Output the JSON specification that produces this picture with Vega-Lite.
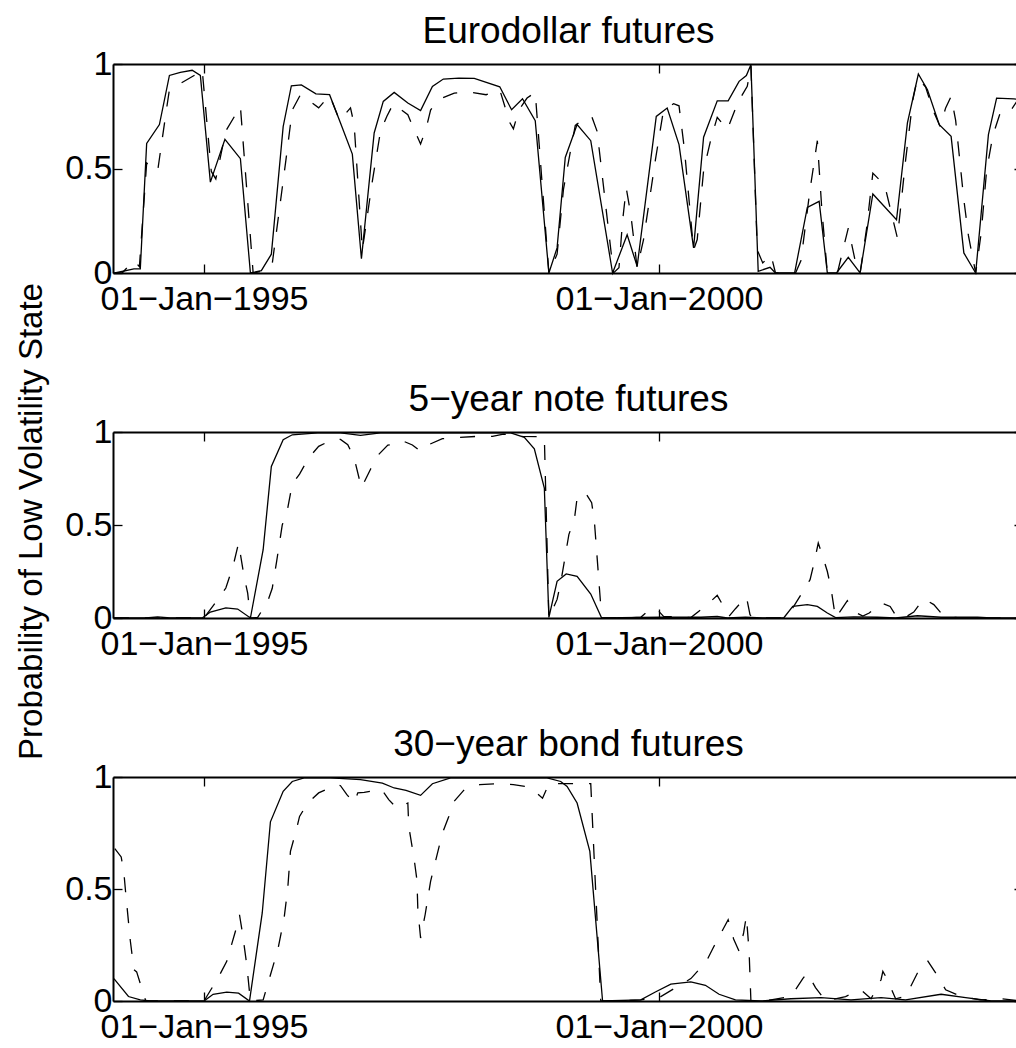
{
  "$schema": "https://vega.github.io/schema/vega-lite/v6.json",
  "padding": {"left": 14, "top": 12, "right": 0, "bottom": 0},
  "background": "white",
  "datasets": {
    "eurodollar": [
      {"series":"smoothed","year":1994.02,"prob":0},{"series":"smoothed","year":1994.23,"prob":0.02},{"series":"smoothed","year":1994.30,"prob":0.02},{"series":"smoothed","year":1994.37,"prob":0.62},{"series":"smoothed","year":1994.51,"prob":0.71},{"series":"smoothed","year":1994.62,"prob":0.945},{"series":"smoothed","year":1994.74,"prob":0.96},{"series":"smoothed","year":1994.87,"prob":0.97},{"series":"smoothed","year":1994.96,"prob":0.945},{"series":"smoothed","year":1995.07,"prob":0.435},{"series":"smoothed","year":1995.23,"prob":0.64},{"series":"smoothed","year":1995.40,"prob":0.547},{"series":"smoothed","year":1995.51,"prob":0},{"series":"smoothed","year":1995.63,"prob":0.011},{"series":"smoothed","year":1995.74,"prob":0.09},{"series":"smoothed","year":1995.87,"prob":0.70},{"series":"smoothed","year":1995.96,"prob":0.896},{"series":"smoothed","year":1996.07,"prob":0.90},{"series":"smoothed","year":1996.23,"prob":0.857},{"series":"smoothed","year":1996.38,"prob":0.853},{"series":"smoothed","year":1996.50,"prob":0.718},{"series":"smoothed","year":1996.63,"prob":0.569},{"series":"smoothed","year":1996.73,"prob":0.068},{"series":"smoothed","year":1996.87,"prob":0.67},{"series":"smoothed","year":1996.97,"prob":0.821},{"series":"smoothed","year":1997.09,"prob":0.864},{"series":"smoothed","year":1997.24,"prob":0.813},{"series":"smoothed","year":1997.38,"prob":0.777},{"series":"smoothed","year":1997.51,"prob":0.893},{"series":"smoothed","year":1997.63,"prob":0.928},{"series":"smoothed","year":1997.80,"prob":0.932},{"series":"smoothed","year":1997.97,"prob":0.931},{"series":"smoothed","year":1998.25,"prob":0.891},{"series":"smoothed","year":1998.38,"prob":0.781},{"series":"smoothed","year":1998.50,"prob":0.834},{"series":"smoothed","year":1998.64,"prob":0.729},{"series":"smoothed","year":1998.79,"prob":0},{"series":"smoothed","year":1998.88,"prob":0.12},{"series":"smoothed","year":1998.97,"prob":0.553},{"series":"smoothed","year":1999.10,"prob":0.71},{"series":"smoothed","year":1999.25,"prob":0.633},{"series":"smoothed","year":1999.49,"prob":0},{"series":"smoothed","year":1999.65,"prob":0.183},{"series":"smoothed","year":1999.76,"prob":0.032},{"series":"smoothed","year":1999.97,"prob":0.749},{"series":"smoothed","year":2000.09,"prob":0.789},{"series":"smoothed","year":2000.22,"prob":0.614},{"series":"smoothed","year":2000.38,"prob":0.12},{"series":"smoothed","year":2000.49,"prob":0.65},{"series":"smoothed","year":2000.64,"prob":0.824},{"series":"smoothed","year":2000.76,"prob":0.824},{"series":"smoothed","year":2000.88,"prob":0.917},{"series":"smoothed","year":2000.96,"prob":0.945},{"series":"smoothed","year":2001.01,"prob":0.997},{"series":"smoothed","year":2001.09,"prob":0.008},{"series":"smoothed","year":2001.22,"prob":0.027},{"series":"smoothed","year":2001.28,"prob":0},{"series":"smoothed","year":2001.49,"prob":0},{"series":"smoothed","year":2001.63,"prob":0.314},{"series":"smoothed","year":2001.76,"prob":0.343},{"series":"smoothed","year":2001.85,"prob":0},{"series":"smoothed","year":2001.95,"prob":0},{"series":"smoothed","year":2002.08,"prob":0.075},{"series":"smoothed","year":2002.21,"prob":0},{"series":"smoothed","year":2002.35,"prob":0.378},{"series":"smoothed","year":2002.61,"prob":0.255},{"series":"smoothed","year":2002.73,"prob":0.718},{"series":"smoothed","year":2002.85,"prob":0.952},{"series":"smoothed","year":2002.95,"prob":0.877},{"series":"smoothed","year":2003.08,"prob":0.71},{"series":"smoothed","year":2003.21,"prob":0.654},{"series":"smoothed","year":2003.35,"prob":0.096},{"series":"smoothed","year":2003.48,"prob":0},{"series":"smoothed","year":2003.62,"prob":0.662},{"series":"smoothed","year":2003.71,"prob":0.837},{"series":"smoothed","year":2003.90,"prob":0.833},{"series":"smoothed","year":2004.00,"prob":0.83},
      {"series":"filtered","year":1994.01,"prob":0},{"series":"filtered","year":1994.10,"prob":0},{"series":"filtered","year":1994.23,"prob":0.06},{"series":"filtered","year":1994.29,"prob":0.03},{"series":"filtered","year":1994.37,"prob":0.526},{"series":"filtered","year":1994.49,"prob":0.486},{"series":"filtered","year":1994.59,"prob":0.79},{"series":"filtered","year":1994.62,"prob":0.877},{"series":"filtered","year":1994.75,"prob":0.909},{"series":"filtered","year":1994.91,"prob":0.95},{"series":"filtered","year":1994.98,"prob":0.973},{"series":"filtered","year":1995.08,"prob":0.486},{"series":"filtered","year":1995.13,"prob":0.45},{"series":"filtered","year":1995.24,"prob":0.68},{"series":"filtered","year":1995.40,"prob":0.797},{"series":"filtered","year":1995.54,"prob":0},{"series":"filtered","year":1995.65,"prob":0.01},{"series":"filtered","year":1995.75,"prob":0.045},{"series":"filtered","year":1995.90,"prob":0.54},{"series":"filtered","year":1995.97,"prob":0.78},{"series":"filtered","year":1996.06,"prob":0.853},{"series":"filtered","year":1996.14,"prob":0.83},{"series":"filtered","year":1996.26,"prob":0.79},{"series":"filtered","year":1996.38,"prob":0.85},{"series":"filtered","year":1996.49,"prob":0.73},{"series":"filtered","year":1996.61,"prob":0.79},{"series":"filtered","year":1996.65,"prob":0.71},{"series":"filtered","year":1996.74,"prob":0.11},{"series":"filtered","year":1996.85,"prob":0.44},{"series":"filtered","year":1996.94,"prob":0.68},{"series":"filtered","year":1997.01,"prob":0.75},{"series":"filtered","year":1997.08,"prob":0.81},{"series":"filtered","year":1997.24,"prob":0.757},{"series":"filtered","year":1997.31,"prob":0.686},{"series":"filtered","year":1997.38,"prob":0.617},{"series":"filtered","year":1997.44,"prob":0.69},{"series":"filtered","year":1997.49,"prob":0.78},{"series":"filtered","year":1997.58,"prob":0.83},{"series":"filtered","year":1997.75,"prob":0.861},{"series":"filtered","year":1997.91,"prob":0.866},{"series":"filtered","year":1998.10,"prob":0.853},{"series":"filtered","year":1998.25,"prob":0.877},{"series":"filtered","year":1998.36,"prob":0.72},{"series":"filtered","year":1998.40,"prob":0.69},{"series":"filtered","year":1998.46,"prob":0.78},{"series":"filtered","year":1998.55,"prob":0.837},{"series":"filtered","year":1998.64,"prob":0.864},{"series":"filtered","year":1998.79,"prob":0},{"series":"filtered","year":1998.88,"prob":0.09},{"series":"filtered","year":1998.95,"prob":0.40},{"series":"filtered","year":1999.03,"prob":0.59},{"series":"filtered","year":1999.08,"prob":0.706},{"series":"filtered","year":1999.16,"prob":0.733},{"series":"filtered","year":1999.26,"prob":0.75},{"series":"filtered","year":1999.32,"prob":0.678},{"series":"filtered","year":1999.50,"prob":0},{"series":"filtered","year":1999.56,"prob":0.025},{"series":"filtered","year":1999.60,"prob":0.25},{"series":"filtered","year":1999.64,"prob":0.407},{"series":"filtered","year":1999.69,"prob":0.28},{"series":"filtered","year":1999.76,"prob":0.025},{"series":"filtered","year":1999.83,"prob":0.16},{"series":"filtered","year":1999.96,"prob":0.54},{"series":"filtered","year":2000.05,"prob":0.78},{"series":"filtered","year":2000.16,"prob":0.81},{"series":"filtered","year":2000.22,"prob":0.80},{"series":"filtered","year":2000.28,"prob":0.59},{"series":"filtered","year":2000.38,"prob":0.11},{"series":"filtered","year":2000.42,"prob":0.16},{"series":"filtered","year":2000.49,"prob":0.49},{"series":"filtered","year":2000.57,"prob":0.64},{"series":"filtered","year":2000.64,"prob":0.745},{"series":"filtered","year":2000.75,"prob":0.686},{"series":"filtered","year":2000.87,"prob":0.82},{"series":"filtered","year":2000.97,"prob":0.893},{"series":"filtered","year":2001.01,"prob":0.99},{"series":"filtered","year":2001.08,"prob":0.11},{"series":"filtered","year":2001.14,"prob":0.048},{"series":"filtered","year":2001.23,"prob":0.088},{"series":"filtered","year":2001.28,"prob":0},{"series":"filtered","year":2001.50,"prob":0},{"series":"filtered","year":2001.56,"prob":0.06},{"series":"filtered","year":2001.66,"prob":0.40},{"series":"filtered","year":2001.74,"prob":0.633},{"series":"filtered","year":2001.79,"prob":0.30},{"series":"filtered","year":2001.85,"prob":0},{"series":"filtered","year":2001.96,"prob":0},{"series":"filtered","year":2002.08,"prob":0.215},{"series":"filtered","year":2002.16,"prob":0.05},{"series":"filtered","year":2002.21,"prob":0},{"series":"filtered","year":2002.28,"prob":0.21},{"series":"filtered","year":2002.35,"prob":0.478},{"series":"filtered","year":2002.48,"prob":0.42},{"series":"filtered","year":2002.62,"prob":0.167},{"series":"filtered","year":2002.71,"prob":0.54},{"series":"filtered","year":2002.79,"prob":0.83},{"series":"filtered","year":2002.84,"prob":0.933},{"series":"filtered","year":2002.93,"prob":0.89},{"series":"filtered","year":2003.01,"prob":0.78},{"series":"filtered","year":2003.09,"prob":0.70},{"series":"filtered","year":2003.15,"prob":0.79},{"series":"filtered","year":2003.21,"prob":0.845},{"series":"filtered","year":2003.26,"prob":0.73},{"series":"filtered","year":2003.35,"prob":0.35},{"series":"filtered","year":2003.40,"prob":0.18},{"series":"filtered","year":2003.48,"prob":0},{"series":"filtered","year":2003.54,"prob":0.19},{"series":"filtered","year":2003.60,"prob":0.49},{"series":"filtered","year":2003.67,"prob":0.66},{"series":"filtered","year":2003.76,"prob":0.78},{"series":"filtered","year":2003.87,"prob":0.78},{"series":"filtered","year":2003.93,"prob":0.82},{"series":"filtered","year":2004.00,"prob":0.83}
    ],
    "note5": [
      {"series":"smoothed","year":1994.01,"prob":0},{"series":"smoothed","year":1994.36,"prob":0},{"series":"smoothed","year":1994.49,"prob":0.006},{"series":"smoothed","year":1994.63,"prob":0},{"series":"smoothed","year":1994.98,"prob":0},{"series":"smoothed","year":1995.07,"prob":0.032},{"series":"smoothed","year":1995.24,"prob":0.054},{"series":"smoothed","year":1995.37,"prob":0.048},{"series":"smoothed","year":1995.51,"prob":0},{"series":"smoothed","year":1995.65,"prob":0.367},{"series":"smoothed","year":1995.74,"prob":0.815},{"series":"smoothed","year":1995.87,"prob":0.959},{"series":"smoothed","year":1995.97,"prob":0.985},{"series":"smoothed","year":1996.25,"prob":0.995},{"series":"smoothed","year":1996.50,"prob":0.995},{"series":"smoothed","year":1996.72,"prob":0.982},{"series":"smoothed","year":1996.94,"prob":0.995},{"series":"smoothed","year":1997.71,"prob":0.996},{"series":"smoothed","year":1998.37,"prob":0.995},{"series":"smoothed","year":1998.52,"prob":0.971},{"series":"smoothed","year":1998.63,"prob":0.91},{"series":"smoothed","year":1998.74,"prob":0.699},{"series":"smoothed","year":1998.79,"prob":0.003},{"series":"smoothed","year":1998.88,"prob":0.197},{"series":"smoothed","year":1998.98,"prob":0.237},{"series":"smoothed","year":1999.10,"prob":0.224},{"series":"smoothed","year":1999.25,"prob":0.129},{"series":"smoothed","year":1999.37,"prob":0},{"series":"smoothed","year":1999.58,"prob":0.002},{"series":"smoothed","year":2000.02,"prob":0.004},{"series":"smoothed","year":2000.46,"prob":0.004},{"series":"smoothed","year":2000.64,"prob":0.008},{"series":"smoothed","year":2000.75,"prob":0},{"series":"smoothed","year":2000.95,"prob":0.005},{"series":"smoothed","year":2001.14,"prob":0},{"series":"smoothed","year":2001.37,"prob":0},{"series":"smoothed","year":2001.47,"prob":0.062},{"series":"smoothed","year":2001.63,"prob":0.072},{"series":"smoothed","year":2001.74,"prob":0.062},{"series":"smoothed","year":2001.85,"prob":0.027},{"series":"smoothed","year":2001.94,"prob":0.002},{"series":"smoothed","year":2002.14,"prob":0.006},{"series":"smoothed","year":2002.40,"prob":0.004},{"series":"smoothed","year":2002.60,"prob":0},{"series":"smoothed","year":2002.84,"prob":0.012},{"series":"smoothed","year":2003.10,"prob":0.004},{"series":"smoothed","year":2003.50,"prob":0.004},{"series":"smoothed","year":2003.65,"prob":0},{"series":"smoothed","year":2004.00,"prob":0},
      {"series":"filtered","year":1994.01,"prob":0},{"series":"filtered","year":1995.00,"prob":0},{"series":"filtered","year":1995.11,"prob":0.072},{"series":"filtered","year":1995.24,"prob":0.161},{"series":"filtered","year":1995.32,"prob":0.28},{"series":"filtered","year":1995.38,"prob":0.403},{"series":"filtered","year":1995.44,"prob":0.224},{"series":"filtered","year":1995.48,"prob":0.134},{"series":"filtered","year":1995.51,"prob":0},{"series":"filtered","year":1995.59,"prob":0.003},{"series":"filtered","year":1995.70,"prob":0.09},{"series":"filtered","year":1995.75,"prob":0.16},{"series":"filtered","year":1995.80,"prob":0.31},{"series":"filtered","year":1995.86,"prob":0.50},{"series":"filtered","year":1995.92,"prob":0.59},{"series":"filtered","year":1995.97,"prob":0.72},{"series":"filtered","year":1996.05,"prob":0.774},{"series":"filtered","year":1996.15,"prob":0.86},{"series":"filtered","year":1996.26,"prob":0.923},{"series":"filtered","year":1996.41,"prob":0.959},{"series":"filtered","year":1996.50,"prob":0.96},{"series":"filtered","year":1996.58,"prob":0.932},{"series":"filtered","year":1996.65,"prob":0.86},{"series":"filtered","year":1996.73,"prob":0.70},{"series":"filtered","year":1996.83,"prob":0.80},{"series":"filtered","year":1996.91,"prob":0.874},{"series":"filtered","year":1997.02,"prob":0.93},{"series":"filtered","year":1997.11,"prob":0.935},{"series":"filtered","year":1997.18,"prob":0.953},{"series":"filtered","year":1997.29,"prob":0.93},{"series":"filtered","year":1997.38,"prob":0.896},{"series":"filtered","year":1997.45,"prob":0.928},{"series":"filtered","year":1997.62,"prob":0.964},{"series":"filtered","year":1997.80,"prob":0.971},{"series":"filtered","year":1997.99,"prob":0.976},{"series":"filtered","year":1998.17,"prob":0.976},{"series":"filtered","year":1998.29,"prob":0.989},{"series":"filtered","year":1998.50,"prob":0.976},{"series":"filtered","year":1998.74,"prob":0.975},{"series":"filtered","year":1998.79,"prob":0},{"series":"filtered","year":1998.88,"prob":0.1},{"series":"filtered","year":1998.92,"prob":0.19},{"series":"filtered","year":1999.01,"prob":0.45},{"series":"filtered","year":1999.07,"prob":0.53},{"series":"filtered","year":1999.10,"prob":0.645},{"series":"filtered","year":1999.19,"prob":0.675},{"series":"filtered","year":1999.26,"prob":0.62},{"series":"filtered","year":1999.29,"prob":0.52},{"series":"filtered","year":1999.37,"prob":0},{"series":"filtered","year":1999.58,"prob":0},{"series":"filtered","year":1999.80,"prob":0.004},{"series":"filtered","year":1999.91,"prob":0.05},{"series":"filtered","year":1999.98,"prob":0.045},{"series":"filtered","year":2000.05,"prob":0.009},{"series":"filtered","year":2000.35,"prob":0.002},{"series":"filtered","year":2000.53,"prob":0.072},{"series":"filtered","year":2000.64,"prob":0.122},{"series":"filtered","year":2000.77,"prob":0.009},{"series":"filtered","year":2000.84,"prob":0.05},{"series":"filtered","year":2000.96,"prob":0.115},{"series":"filtered","year":2001.00,"prob":0.018},{"series":"filtered","year":2001.03,"prob":0},{"series":"filtered","year":2001.37,"prob":0},{"series":"filtered","year":2001.47,"prob":0.054},{"series":"filtered","year":2001.56,"prob":0.125},{"series":"filtered","year":2001.66,"prob":0.206},{"series":"filtered","year":2001.70,"prob":0.287},{"series":"filtered","year":2001.75,"prob":0.403},{"series":"filtered","year":2001.80,"prob":0.33},{"series":"filtered","year":2001.85,"prob":0.25},{"series":"filtered","year":2001.89,"prob":0.16},{"series":"filtered","year":2001.94,"prob":0},{"series":"filtered","year":2002.07,"prob":0.093},{"series":"filtered","year":2002.16,"prob":0.03},{"series":"filtered","year":2002.24,"prob":0.01},{"series":"filtered","year":2002.31,"prob":0.027},{"series":"filtered","year":2002.44,"prob":0.081},{"series":"filtered","year":2002.54,"prob":0.062},{"series":"filtered","year":2002.62,"prob":0},{"series":"filtered","year":2002.71,"prob":0.005},{"series":"filtered","year":2002.80,"prob":0.032},{"series":"filtered","year":2002.91,"prob":0.104},{"series":"filtered","year":2003.02,"prob":0.072},{"series":"filtered","year":2003.13,"prob":0.009},{"series":"filtered","year":2003.32,"prob":0},{"series":"filtered","year":2004.00,"prob":0}
    ],
    "bond30": [
      {"series":"smoothed","year":1994.01,"prob":0.10},{"series":"smoothed","year":1994.17,"prob":0.02},{"series":"smoothed","year":1994.30,"prob":0.005},{"series":"smoothed","year":1994.41,"prob":0},{"series":"smoothed","year":1995.00,"prob":0},{"series":"smoothed","year":1995.10,"prob":0.03},{"series":"smoothed","year":1995.25,"prob":0.04},{"series":"smoothed","year":1995.38,"prob":0.035},{"series":"smoothed","year":1995.50,"prob":0},{"series":"smoothed","year":1995.64,"prob":0.393},{"series":"smoothed","year":1995.73,"prob":0.80},{"series":"smoothed","year":1995.87,"prob":0.936},{"series":"smoothed","year":1995.97,"prob":0.98},{"series":"smoothed","year":1996.10,"prob":0.996},{"series":"smoothed","year":1996.39,"prob":0.996},{"series":"smoothed","year":1996.72,"prob":0.988},{"series":"smoothed","year":1996.96,"prob":0.973},{"series":"smoothed","year":1997.09,"prob":0.951},{"series":"smoothed","year":1997.22,"prob":0.94},{"series":"smoothed","year":1997.38,"prob":0.918},{"series":"smoothed","year":1997.51,"prob":0.97},{"series":"smoothed","year":1997.71,"prob":0.996},{"series":"smoothed","year":1998.77,"prob":0.996},{"series":"smoothed","year":1998.92,"prob":0.98},{"series":"smoothed","year":1998.99,"prob":0.958},{"series":"smoothed","year":1999.10,"prob":0.884},{"series":"smoothed","year":1999.24,"prob":0.668},{"series":"smoothed","year":1999.36,"prob":0.095},{"series":"smoothed","year":1999.38,"prob":0},{"series":"smoothed","year":1999.80,"prob":0.005},{"series":"smoothed","year":1999.96,"prob":0.04},{"series":"smoothed","year":2000.13,"prob":0.075},{"series":"smoothed","year":2000.35,"prob":0.085},{"series":"smoothed","year":2000.51,"prob":0.07},{"series":"smoothed","year":2000.66,"prob":0.03},{"series":"smoothed","year":2000.84,"prob":0.005},{"series":"smoothed","year":2001.12,"prob":0},{"series":"smoothed","year":2001.45,"prob":0.01},{"series":"smoothed","year":2001.78,"prob":0.015},{"series":"smoothed","year":2002.11,"prob":0.005},{"series":"smoothed","year":2002.44,"prob":0.015},{"series":"smoothed","year":2002.71,"prob":0.005},{"series":"smoothed","year":2003.10,"prob":0.03},{"series":"smoothed","year":2003.37,"prob":0.015},{"series":"smoothed","year":2003.65,"prob":0},{"series":"smoothed","year":2004.00,"prob":0},
      {"series":"filtered","year":1994.02,"prob":0.68},{"series":"filtered","year":1994.09,"prob":0.643},{"series":"filtered","year":1994.12,"prob":0.571},{"series":"filtered","year":1994.14,"prob":0.48},{"series":"filtered","year":1994.19,"prob":0.27},{"series":"filtered","year":1994.23,"prob":0.14},{"series":"filtered","year":1994.26,"prob":0.13},{"series":"filtered","year":1994.36,"prob":0},{"series":"filtered","year":1995.00,"prob":0},{"series":"filtered","year":1995.16,"prob":0.107},{"series":"filtered","year":1995.25,"prob":0.177},{"series":"filtered","year":1995.35,"prob":0.318},{"series":"filtered","year":1995.39,"prob":0.385},{"series":"filtered","year":1995.42,"prob":0.31},{"series":"filtered","year":1995.47,"prob":0.162},{"series":"filtered","year":1995.51,"prob":0},{"series":"filtered","year":1995.65,"prob":0.005},{"series":"filtered","year":1995.76,"prob":0.158},{"series":"filtered","year":1995.81,"prob":0.226},{"series":"filtered","year":1995.88,"prob":0.37},{"series":"filtered","year":1995.92,"prob":0.50},{"series":"filtered","year":1995.95,"prob":0.668},{"series":"filtered","year":1996.01,"prob":0.757},{"series":"filtered","year":1996.05,"prob":0.824},{"series":"filtered","year":1996.14,"prob":0.884},{"series":"filtered","year":1996.26,"prob":0.929},{"series":"filtered","year":1996.46,"prob":0.966},{"series":"filtered","year":1996.50,"prob":0.961},{"series":"filtered","year":1996.57,"prob":0.921},{"series":"filtered","year":1996.65,"prob":0.884},{"series":"filtered","year":1996.69,"prob":0.929},{"series":"filtered","year":1996.76,"prob":0.931},{"series":"filtered","year":1996.95,"prob":0.946},{"series":"filtered","year":1997.03,"prob":0.899},{"series":"filtered","year":1997.12,"prob":0.86},{"series":"filtered","year":1997.24,"prob":0.884},{"series":"filtered","year":1997.25,"prob":0.78},{"series":"filtered","year":1997.31,"prob":0.631},{"series":"filtered","year":1997.34,"prob":0.54},{"series":"filtered","year":1997.35,"prob":0.408},{"series":"filtered","year":1997.38,"prob":0.281},{"series":"filtered","year":1997.43,"prob":0.385},{"series":"filtered","year":1997.49,"prob":0.534},{"series":"filtered","year":1997.53,"prob":0.601},{"series":"filtered","year":1997.62,"prob":0.75},{"series":"filtered","year":1997.69,"prob":0.824},{"series":"filtered","year":1997.74,"prob":0.887},{"series":"filtered","year":1997.87,"prob":0.948},{"series":"filtered","year":1998.03,"prob":0.966},{"series":"filtered","year":1998.22,"prob":0.97},{"series":"filtered","year":1998.40,"prob":0.966},{"series":"filtered","year":1998.58,"prob":0.955},{"series":"filtered","year":1998.72,"prob":0.905},{"series":"filtered","year":1998.77,"prob":0.951},{"series":"filtered","year":1998.79,"prob":0.97},{"series":"filtered","year":1998.89,"prob":0.97},{"series":"filtered","year":1999.10,"prob":0.97},{"series":"filtered","year":1999.25,"prob":0.97},{"series":"filtered","year":1999.36,"prob":0},{"series":"filtered","year":1999.58,"prob":0},{"series":"filtered","year":1999.80,"prob":0.005},{"series":"filtered","year":2000.02,"prob":0.02},{"series":"filtered","year":2000.35,"prob":0.10},{"series":"filtered","year":2000.39,"prob":0.118},{"series":"filtered","year":2000.52,"prob":0.177},{"series":"filtered","year":2000.60,"prob":0.241},{"series":"filtered","year":2000.69,"prob":0.31},{"series":"filtered","year":2000.76,"prob":0.363},{"series":"filtered","year":2000.82,"prob":0.277},{"series":"filtered","year":2000.88,"prob":0.222},{"series":"filtered","year":2000.93,"prob":0.304},{"series":"filtered","year":2000.96,"prob":0.38},{"series":"filtered","year":2000.99,"prob":0.222},{"series":"filtered","year":2001.01,"prob":0},{"series":"filtered","year":2001.23,"prob":0.005},{"series":"filtered","year":2001.45,"prob":0.02},{"series":"filtered","year":2001.58,"prob":0.10},{"series":"filtered","year":2001.63,"prob":0.125},{"series":"filtered","year":2001.72,"prob":0.06},{"series":"filtered","year":2001.83,"prob":0},{"series":"filtered","year":2002.05,"prob":0.02},{"series":"filtered","year":2002.22,"prob":0.05},{"series":"filtered","year":2002.33,"prob":0.01},{"series":"filtered","year":2002.44,"prob":0.095},{"series":"filtered","year":2002.46,"prob":0.132},{"series":"filtered","year":2002.50,"prob":0.103},{"series":"filtered","year":2002.60,"prob":0.01},{"series":"filtered","year":2002.71,"prob":0.02},{"series":"filtered","year":2002.84,"prob":0.125},{"series":"filtered","year":2002.95,"prob":0.181},{"series":"filtered","year":2003.06,"prob":0.113},{"series":"filtered","year":2003.15,"prob":0.05},{"series":"filtered","year":2003.32,"prob":0.02},{"series":"filtered","year":2003.53,"prob":0.005},{"series":"filtered","year":2003.76,"prob":0.01},{"series":"filtered","year":2004.00,"prob":0}
    ]
  },
  "bounds": "flush",
  "spacing": 159,
  "vconcat": [
    {
      "data": {"name": "eurodollar"},
      "width": 910,
      "height": 209,
      "resolve": {"axis": {"x": "independent", "y": "independent"}},
      "layer": [
        {
          "transform": [{"filter": "datum.series === 'smoothed'"}],
          "mark": {"type": "line", "color": "black", "strokeWidth": 1.3},
          "encoding": {
            "x": {"field": "year", "type": "quantitative", "scale": {"domain": [1994, 2004], "nice": false, "zero": false}, "axis": {"orient": "bottom", "values": [1995, 2000], "labelExpr": "'01\u2212Jan\u2212' + datum.value", "labelPadding": 18, "title": null}},
            "y": {"field": "prob", "type": "quantitative", "scale": {"domain": [0, 1], "nice": false}, "axis": {"orient": "left", "values": [0, 0.5, 1], "labelExpr": "'' + datum.value", "title": null}}
          }
        },
        {
          "transform": [{"filter": "datum.series === 'filtered'"}],
          "mark": {"type": "line", "color": "black", "strokeWidth": 1.3, "strokeDash": [15, 16]},
          "encoding": {
            "x": {"field": "year", "type": "quantitative", "axis": {"orient": "top", "values": [1995, 2000], "labels": false, "title": "Eurodollar futures", "titleFontSize": 37, "titleY": -22, "titleBaseline": "alphabetic", "titleAlign": "center"}},
            "y": {"field": "prob", "type": "quantitative", "axis": {"orient": "right", "values": [0, 0.5, 1], "labels": false, "title": null}}
          }
        }
      ]
    },
    {
      "data": {"name": "note5"},
      "width": 910,
      "height": 186,
      "resolve": {"axis": {"x": "independent", "y": "independent"}},
      "layer": [
        {
          "transform": [{"filter": "datum.series === 'smoothed'"}],
          "mark": {"type": "line", "color": "black", "strokeWidth": 1.3},
          "encoding": {
            "x": {"field": "year", "type": "quantitative", "scale": {"domain": [1994, 2004], "nice": false, "zero": false}, "axis": {"orient": "bottom", "values": [1995, 2000], "labelExpr": "'01\u2212Jan\u2212' + datum.value", "labelPadding": 18, "title": null}},
            "y": {"field": "prob", "type": "quantitative", "scale": {"domain": [0, 1], "nice": false}, "axis": {"orient": "left", "values": [0, 0.5, 1], "labelExpr": "'' + datum.value", "title": "Probability of Low Volatility State", "titleFontSize": 33, "titleX": -72, "titleY": 89, "titleAngle": 270, "titleBaseline": "alphabetic", "titleAlign": "center"}}
          }
        },
        {
          "transform": [{"filter": "datum.series === 'filtered'"}],
          "mark": {"type": "line", "color": "black", "strokeWidth": 1.3, "strokeDash": [15, 16]},
          "encoding": {
            "x": {"field": "year", "type": "quantitative", "axis": {"orient": "top", "values": [1995, 2000], "labels": false, "title": "5\u2212year note futures", "titleFontSize": 37, "titleY": -22, "titleBaseline": "alphabetic", "titleAlign": "center"}},
            "y": {"field": "prob", "type": "quantitative", "axis": {"orient": "right", "values": [0, 0.5, 1], "labels": false, "title": null}}
          }
        }
      ]
    },
    {
      "data": {"name": "bond30"},
      "width": 910,
      "height": 224,
      "resolve": {"axis": {"x": "independent", "y": "independent"}},
      "layer": [
        {
          "transform": [{"filter": "datum.series === 'smoothed'"}],
          "mark": {"type": "line", "color": "black", "strokeWidth": 1.3},
          "encoding": {
            "x": {"field": "year", "type": "quantitative", "scale": {"domain": [1994, 2004], "nice": false, "zero": false}, "axis": {"orient": "bottom", "values": [1995, 2000], "labelExpr": "'01\u2212Jan\u2212' + datum.value", "labelPadding": 18, "title": null}},
            "y": {"field": "prob", "type": "quantitative", "scale": {"domain": [0, 1], "nice": false}, "axis": {"orient": "left", "values": [0, 0.5, 1], "labelExpr": "'' + datum.value", "title": null}}
          }
        },
        {
          "transform": [{"filter": "datum.series === 'filtered'"}],
          "mark": {"type": "line", "color": "black", "strokeWidth": 1.3, "strokeDash": [15, 16]},
          "encoding": {
            "x": {"field": "year", "type": "quantitative", "axis": {"orient": "top", "values": [1995, 2000], "labels": false, "title": "30\u2212year bond futures", "titleFontSize": 37, "titleY": -22, "titleBaseline": "alphabetic", "titleAlign": "center"}},
            "y": {"field": "prob", "type": "quantitative", "axis": {"orient": "right", "values": [0, 0.5, 1], "labels": false, "title": null}}
          }
        }
      ]
    }
  ],
  "config": {
    "view": {"stroke": null},
    "font": "Liberation Sans",
    "axis": {
      "grid": false,
      "domainColor": "black",
      "domainWidth": 2,
      "tickColor": "black",
      "tickWidth": 1.3,
      "tickSize": -9,
      "labelColor": "black",
      "labelFont": "Liberation Sans",
      "labelFontSize": 34,
      "labelPadding": 10,
      "labelLimit": 500,
      "labelFlush": false,
      "labelOverlap": false,
      "titleFont": "Liberation Sans",
      "titleFontSize": 34,
      "titleFontWeight": "normal",
      "titleColor": "black",
      "titleLimit": 1000
    }
  }
}
